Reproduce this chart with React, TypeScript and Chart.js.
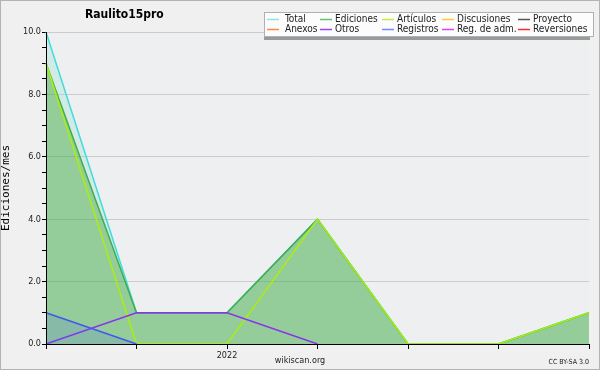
import React, { useEffect, useRef } from "react";
import { Chart, registerables } from "chart.js";

Chart.register(...registerables);

const labels = ["", "", "2022", "", "", "", ""];
const total = [10, 1, 1, 4, 0, 0, 1];
const ediciones = [9, 1, 1, 4, 0, 0, 1];
const articulos = [9, 0, 0, 4, 0, 0, 1];
const otros = [0, 1, 1, 0, null, null, null];
const registros = [1, 0, null, null, null, null, null];

const legendNames = [
  "Total", "Ediciones", "Artículos", "Discusiones", "Proyecto",
  "Anexos", "Otros", "Registros", "Reg. de adm.", "Reversiones",
];
const legendColors = [
  "#8ee6e6", "#66c077", "#c4ee3c", "#ffcc33", "#555555",
  "#ff8844", "#9944ee", "#7788ff", "#dd44ee", "#ee3333",
];

const chartTitle = "Raulito15pro";
const yTitle = "Ediciones/mes";
const footer = "wikiscan.org";
const license = "CC BY-SA 3.0";

const decor = {
  id: "decor",
  beforeDraw(chart: any) {
    const { ctx, width, height, chartArea: a } = chart;
    ctx.save();
    ctx.fillStyle = "#f0f0f0";
    ctx.fillRect(0, 0, width, height);
    ctx.strokeStyle = "#b4b4b4";
    ctx.lineWidth = 1;
    ctx.strokeRect(0.5, 0.5, width - 1, height - 1);
    ctx.fillStyle = "#eeeff1";
    ctx.fillRect(a.left, a.top, a.right - a.left, a.bottom - a.top);
    ctx.restore();
  },
  afterDatasetsDraw(chart: any) {
    const { ctx, chartArea: a } = chart;
    ctx.save();
    ctx.strokeStyle = "#000";
    ctx.lineWidth = 1;
    ctx.beginPath();
    ctx.moveTo(a.left + 0.5, a.top);
    ctx.lineTo(a.left + 0.5, a.bottom + 0.5);
    ctx.lineTo(a.right, a.bottom + 0.5);
    ctx.stroke();
    ctx.restore();
  },
  afterDraw(chart: any) {
    const { ctx } = chart;
    ctx.save();
    ctx.fillStyle = "#000";
    ctx.font = "bold 12px 'DejaVu Sans Condensed', 'DejaVu Sans'";
    ctx.textBaseline = "middle";
    ctx.textAlign = "left";
    ctx.fillText(chartTitle, 85, 15);

    // legend
    const bx = 264, by = 12, bw = 329, bh = 24;
    ctx.fillStyle = "#9a9a9a";
    ctx.fillRect(bx, by + bh + 1, bw - 3, 3);
    ctx.fillStyle = "#fcfcfc";
    ctx.fillRect(bx, by, bw, bh);
    ctx.strokeStyle = "#b0b0b0";
    ctx.lineWidth = 1;
    ctx.strokeRect(bx + 0.5, by + 0.5, bw, bh);
    const colX = [267, 320, 382, 442, 518];
    const txtX = [285, 335, 397, 457, 533];
    const rowY = [19, 29];
    ctx.font = "10px 'DejaVu Sans Condensed', 'DejaVu Sans'";
    for (let i = 0; i < legendNames.length; i++) {
      const c = i % 5, r = Math.floor(i / 5);
      ctx.strokeStyle = legendColors[i];
      ctx.lineWidth = 1.5;
      ctx.beginPath();
      ctx.moveTo(colX[c], rowY[r] + 0.5);
      ctx.lineTo(colX[c] + 12, rowY[r] + 0.5);
      ctx.stroke();
      ctx.fillStyle = "#222";
      ctx.fillText(legendNames[i], txtX[c], rowY[r]);
    }

    ctx.fillStyle = "#222";
    ctx.textAlign = "center";
    ctx.font = "9px 'DejaVu Sans Condensed', 'DejaVu Sans'";
    ctx.fillText(footer, 300, 361);
    ctx.textAlign = "right";
    ctx.font = "7px 'DejaVu Sans Condensed', 'DejaVu Sans'";
    ctx.fillText(license, 589, 362);
    ctx.restore();
  },
};

export default function App() {
  const ref = useRef<HTMLCanvasElement>(null);
  useEffect(() => {
    document.body.style.margin = "0";
    const chart = new Chart(ref.current!, {
      type: "line",
      data: {
        labels,
        datasets: [
          {
            label: "Total", data: total, borderColor: "#3fdcdc", borderWidth: 1.5,
            backgroundColor: "rgba(150,225,205,0.3)", fill: "+1", order: 10,
          },
          {
            label: "Ediciones", data: ediciones, borderColor: "#3fae52", borderWidth: 1.5,
            backgroundColor: "rgba(60,170,70,0.51)", fill: "origin", order: 9,
          },
          {
            label: "Artículos", data: articulos, borderColor: "#aaee11", borderWidth: 1.5,
            fill: false, order: 8,
          },
          {
            label: "Otros", data: otros, borderColor: "#8833ee", borderWidth: 1.5,
            fill: false, order: 4,
          },
          {
            label: "Registros", data: registros, borderColor: "#4455ee", borderWidth: 1.5,
            backgroundColor: "rgba(68,102,238,0.16)", fill: "origin", order: 3,
          },
        ],
      },
      options: {
        animation: false,
        responsive: false,
        devicePixelRatio: 1,
        layout: { padding: { top: 32, right: 11, left: 0, bottom: 0 } },
        elements: { point: { radius: 0 }, line: { tension: 0 } },
        plugins: { legend: { display: false }, tooltip: { enabled: false }, title: { display: false } },
        scales: {
          x: {
            type: "category",
            offset: false,
            afterFit: (s: any) => { s.height = 26; },
            grid: { color: "transparent", tickColor: "#000", tickLength: 5, drawOnChartArea: false },
            border: { display: false },
            ticks: {
              autoSkip: false, maxRotation: 0, padding: 1, color: "#222",
              font: { family: "'DejaVu Sans Condensed', 'DejaVu Sans'", size: 9 },
            },
          },
          y: {
            min: 0, max: 10,
            afterFit: (s: any) => { s.width = 46; },
            grid: {
              color: (c: any) => (c.tick && c.tick.value % 2 === 0 && c.tick.value !== 0 ? "#cccccc" : "transparent"),
              tickColor: "#000", tickLength: 4,
            },
            border: { display: false },
            title: {
              display: true, text: yTitle, color: "#000", padding: { top: 0, bottom: 4 },
              font: { family: "'DejaVu Sans Mono'", size: 11 },
            },
            ticks: {
              stepSize: 0.5, autoSkip: false, padding: 1, color: "#222",
              font: { family: "'DejaVu Sans Condensed', 'DejaVu Sans'", size: 9 },
              callback: (v: any) => (Number(v) % 2 === 0 ? Number(v).toFixed(1) : ""),
            },
          },
        },
      },
      plugins: [decor],
    });
    return () => chart.destroy();
  }, []);
  return <canvas ref={ref} width={600} height={370} style={{ display: "block" }} />;
}
